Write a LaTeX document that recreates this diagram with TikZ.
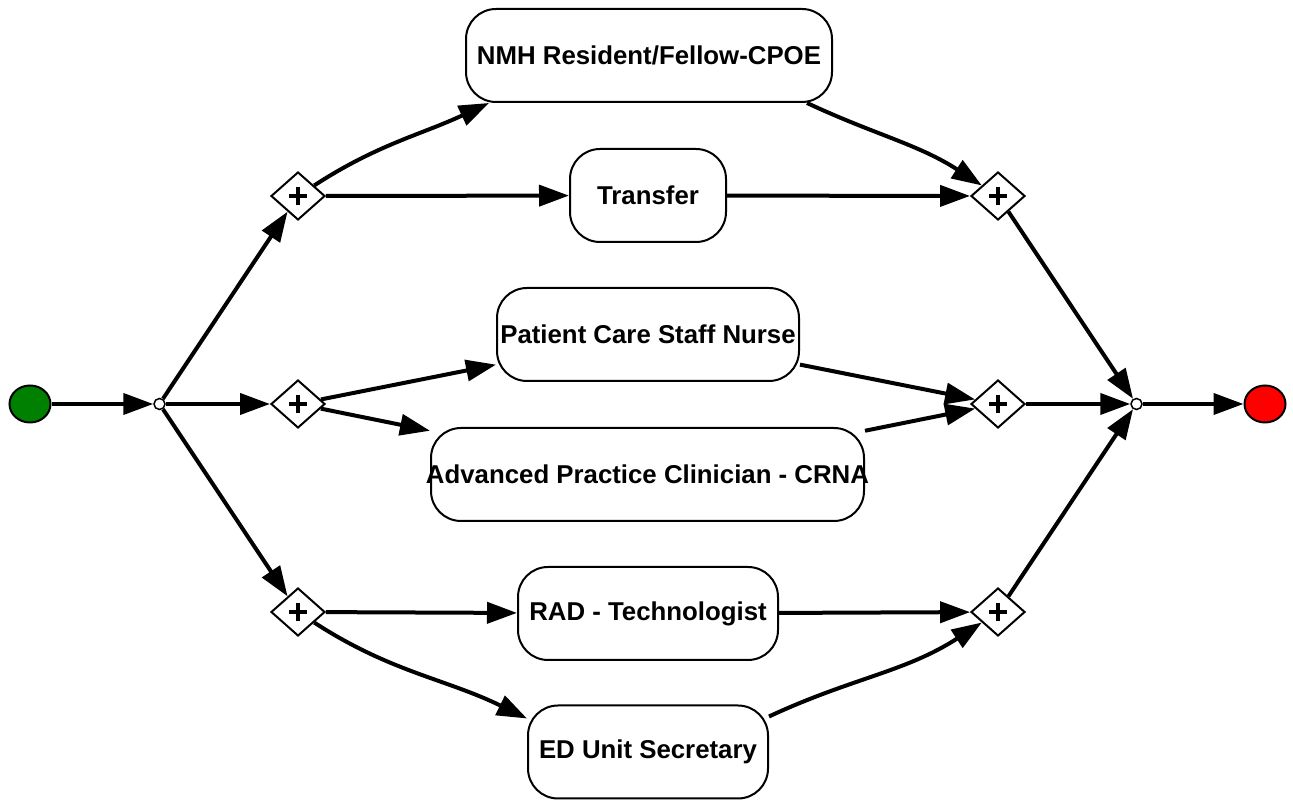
\documentclass[tikz,border=0pt]{standalone}
\usepackage{fontspec}
\setmainfont{Liberation Sans}
\usetikzlibrary{arrows.meta,shapes.geometric}
\newcommand\zlbl[1]{\makebox[0pt][c]{#1}}
\begin{document}
\begin{tikzpicture}[x=1pt,y=1pt,
  task/.style={draw, line width=2pt, rounded corners=30pt, minimum height=93pt, inner sep=0pt,
    font=\fontsize{25.8}{30}\selectfont\bfseries},
  gate/.style={diamond, draw, fill=white, line width=2pt, minimum width=54pt, minimum height=48pt,
    inner sep=0pt, aspect=1.125,
    path picture={\draw[line width=4.5pt]
      ([xshift=-9pt]path picture bounding box.center) -- ([xshift=9pt]path picture bounding box.center)
      ([yshift=-9pt]path picture bounding box.center) -- ([yshift=9pt]path picture bounding box.center);}},
  junction/.style={circle, draw, fill=white, line width=1.5pt, minimum size=11pt, inner sep=0pt},
  event/.style={ellipse, draw, line width=2pt, minimum width=41pt, minimum height=37pt, inner sep=0pt},
  flow/.style={line width=4pt, -{Triangle[length=30pt,width=21pt]}},
]
\useasboundingbox (0,0) rectangle (1293,800);

\node[event, fill={rgb,255:red,0;green,128;blue,0}] (s) at (30,396) {};
\node[junction] (sp) at (159.5,396) {};
\node[gate] (g1) at (298,604) {};
\node[gate] (g2) at (298,396) {};
\node[gate] (g3) at (298,188) {};
\node[gate] (h1) at (998,604) {};
\node[gate] (h2) at (998,396) {};
\node[gate] (h3) at (998,188) {};
\node[junction] (jn) at (1136.5,396) {};
\node[event, fill=red] (e) at (1265,396) {};

\node[task, minimum width=366pt] (t1) at (649,744.5) {\zlbl{NMH Resident/Fellow-CPOE}};
\node[task, minimum width=156pt] (t2) at (648,604.5) {\zlbl{Transfer}};
\node[task, minimum width=302pt] (t3) at (648,465.5) {\zlbl{Patient Care Staff Nurse}};
\node[task, minimum width=433pt] (t4) at (647.5,325.5) {\zlbl{Advanced Practice Clinician - CRNA}};
\node[task, minimum width=260pt] (t5) at (648,186.5) {\zlbl{RAD - Technologist}};
\node[task, minimum width=240pt] (t6) at (648,48) {\zlbl{ED Unit Secretary}};

\draw[flow] (s) -- (sp);
\draw[flow] (sp) -- (g1);
\draw[flow] (sp) -- (g2);
\draw[flow] (sp) -- (g3);

\draw[flow] (g1) to[out=33,in=205] ([xshift=24pt]t1.south west);
\draw[flow] (g1) -- (t2);
\draw[flow] ([xshift=-26pt]t1.south east) to[out=-25,in=147] (h1);
\draw[flow] (t2) -- (h1);

\draw[flow] (g2) -- (t3);
\draw[flow] (g2) -- (t4);
\draw[flow] (t3) -- (h2);
\draw[flow] (t4) -- (h2);

\draw[flow] (g3) -- (t5);
\draw[flow] (g3) to[out=-33,in=154] ([yshift=-14pt]t6.north west);
\draw[flow] (t5) -- (h3);
\draw[flow] ([yshift=-12pt]t6.north east) to[out=25,in=213] (h3);

\draw[flow] (h1) -- (jn);
\draw[flow] (h2) -- (jn);
\draw[flow] (h3) -- (jn);
\draw[flow] (jn) -- (e);
\end{tikzpicture}
\end{document}
